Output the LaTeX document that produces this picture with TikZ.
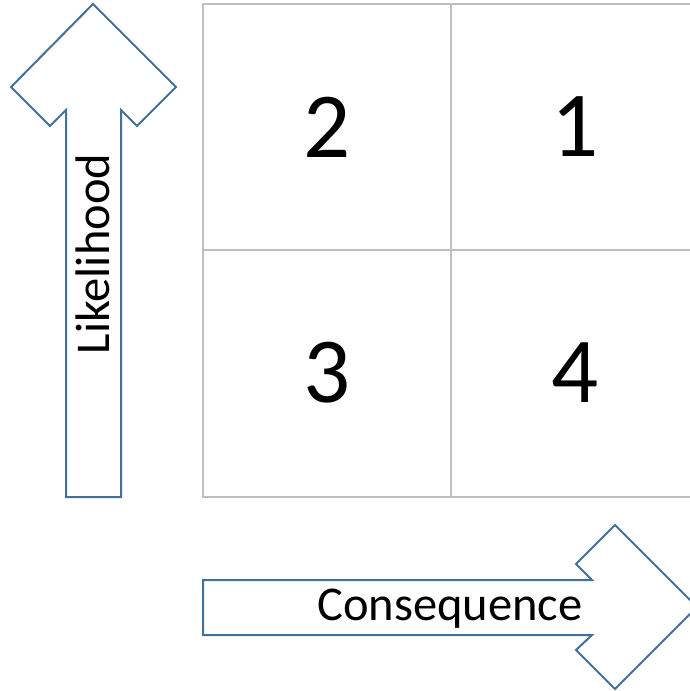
\documentclass[tikz,border=0pt]{standalone}
\usepackage{fontspec}
\setmainfont{Carlito}
\definecolor{arrowblue}{HTML}{41719C}
\definecolor{gridgray}{HTML}{BFBFBF}
\begin{document}
\begin{tikzpicture}[x=1pt,y=-1pt,
  cell/.style={draw=gridgray,line width=1.6pt},
  bigarrow/.style={draw=arrowblue,line width=2pt,fill=white,line join=miter},
  num/.style={font=\fontsize{93}{93}\selectfont,inner sep=0pt},
  axislabel/.style={font=\fontsize{48.5}{48.5}\selectfont,inner sep=0pt}]
\useasboundingbox (0,0) rectangle (690,691);
\begin{scope}
\clip (0,0) rectangle (690,691);
% grid
\draw[cell] (203,4) rectangle (451,250);
\draw[cell] (451,4) rectangle (699,250);
\draw[cell] (203,250) rectangle (451,497);
\draw[cell] (451,250) rectangle (699,497);
\node[num] (n2) at (327,127) {2};
\node[num] (n1) at (575,127) {1};
\node[num] (n3) at (327,373) {3};
\node[num] (n4) at (575,373) {4};
% up arrow
\draw[bigarrow] (66,497) -- (66,110) -- (50,126) -- (11,87) -- (93,4) -- (176,87) -- (137,126) -- (121,110) -- (121,497) -- cycle;
\node[axislabel,rotate=90] (lik) at (93,254) {Likelihood};
% right arrow
\draw[bigarrow] (203,580) -- (592,580) -- (576,564) -- (615,525) -- (697,607) -- (615,689) -- (576,650) -- (592,635) -- (203,635) -- cycle;
\node[axislabel,anchor=base] (con) at (450,620) {Consequence};
\end{scope}
\end{tikzpicture}
\end{document}
